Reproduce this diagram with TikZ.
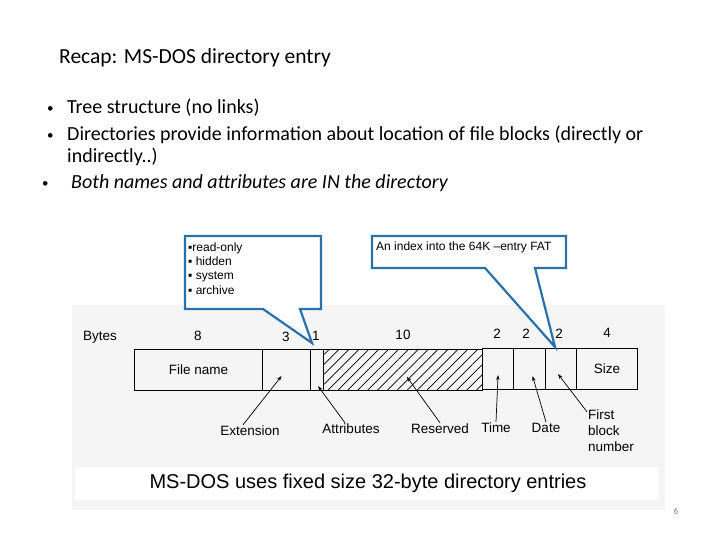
\documentclass[tikz,border=0pt]{standalone}
\usepackage{fontspec}
\setmainfont{Carlito}
\newfontfamily\arialfont{Liberation Sans}
\usepackage{xcolor}
\definecolor{calloutblue}{RGB}{41,113,171}
\usetikzlibrary{arrows.meta,patterns.meta,positioning}

\begin{document}
\begin{tikzpicture}[
    x=1pt, y=-1pt,
    slidetext/.style={font=\fontsize{20}{24}\selectfont, inner sep=0pt, anchor=base west},
    dot/.style={font=\fontsize{13}{16}\selectfont, inner sep=0pt, anchor=base west},
    field/.style={draw=black, line width=1.1pt, minimum height=41pt, inner sep=0pt, anchor=north west,
                  font=\arialfont\fontsize{13.5}{16}\selectfont},
    bytenum/.style={font=\arialfont\fontsize{13.5}{16}\selectfont, inner sep=0pt},
    lbl/.style={font=\arialfont\fontsize{13.5}{16}\selectfont, inner sep=1pt},
    ptr/.style={-{Stealth[length=5pt,width=3.5pt]}, line width=0.7pt},
    callout/.style={draw=calloutblue, line width=2.2pt, fill=white, line join=miter},
    calltext/.style={font=\arialfont\fontsize{12}{14}\selectfont, inner sep=0pt, anchor=base west}
]
\useasboundingbox (0,0) rectangle (720,540);

% Title and bullets
\node[slidetext, font=\fontsize{21.5}{26}\selectfont] (title) at (59,64) {Recap: MS-DOS directory entry};
\node[dot] (b1dot) at (47,113) {•};
\node[slidetext] (b1) at (67,114) {Tree structure (no links)};
\node[dot] (b2dot) at (47,140) {•};
\node[slidetext] (b2) at (67,141) {Directories provide information about location of file blocks (directly or};
\node[slidetext] (b2more) at (67,163) {indirectly..)};
\node[dot] (b3dot) at (42,188) {•};
\node[slidetext] (b3) at (71,189) {\itshape Both names and attributes are IN the directory};

% Scanned figure background
\fill[gray!8] (72,305) rectangle (665,510);
\fill[white] (75,467) rectangle (658,500);

% Byte counts
\node[bytenum] (bytes) at (100,337) {Bytes};
\node[bytenum] (n8) at (198,336) {8};
\node[bytenum] (n3) at (286,337) {3};
\node[bytenum] (n1) at (316,336) {1};
\node[bytenum] (n10) at (403,335) {10};
\node[bytenum] (n2a) at (497,334) {2};
\node[bytenum] (n2b) at (526,334) {2};
\node[bytenum] (n2c) at (559,334) {2};
\node[bytenum] (n4) at (607,333) {4};

% Fields of the entry
\node[field, minimum width=128pt] (fname) at (134,349) {File name\hspace{10pt}};
\node[field, minimum width=48pt] (ext) at (262,349) {};
\node[field, minimum width=13pt] (attr) at (310,349) {};
\node[field, minimum width=159pt, pattern={Lines[angle=45,distance=7pt,line width=0.7pt]}] (resv) at (323,349) {};
\node[field, minimum width=31pt] (time) at (482,348) {};
\node[field, minimum width=32pt] (date) at (513,348) {};
\node[field, minimum width=31pt] (first) at (545,348) {};
\node[field, minimum width=61pt] (size) at (576,348) {Size};

% Labels under the entry
\node[lbl] (extlbl) at (250,431) {Extension};
\node[lbl] (attrlbl) at (351,429) {Attributes};
\node[lbl] (resvlbl) at (440,429) {Reserved};
\node[lbl] (timelbl) at (496,428) {Time};
\node[lbl] (datelbl) at (546,428) {Date};
\node[lbl, align=left, anchor=west] (firstlbl) at (587,431) {First\\block\\number};

\draw[ptr] ([xshift=-7pt]extlbl.north) -- ([xshift=-5pt,yshift=-6pt]ext.center);
\draw[ptr] ([xshift=-6pt]attrlbl.north) -- ([xshift=1pt,yshift=5pt]attr.south);
\draw[ptr] (resvlbl.north) -- ([xshift=4pt,yshift=-7pt]resv.center);
\draw[ptr] (timelbl.north) -- ([yshift=-6pt]time.center);
\draw[ptr] (datelbl.north) -- ([xshift=3pt,yshift=-7pt]date.center);
\draw[ptr] ([yshift=-3pt]firstlbl.north west) -- ([xshift=-3pt,yshift=-5pt]first.center);

% Callouts
\coordinate (attrtip) at (312,343);
\coordinate (firsttip) at (555,347);
\draw[callout] (185,236) -- (321,236) -- (321,309) -- (300,309) -- (attrtip)
    -- (263,309) -- (185,309) -- cycle;
\foreach \txt [count=\k] in {{▪read-only},{▪ hidden},{▪ system},{▪ archive}}
    \node[calltext] (flag\k) at (188,237+14.3*\k) {\txt};

\draw[callout] (372,236) -- (566,236) -- (566,268) -- (535,268) -- (firsttip)
    -- (485,268) -- (372,268) -- cycle;
\node[calltext] (fatnote) at (376,251) {An index into the 64K –entry FAT};

% Caption and page number
\node[font=\arialfont\fontsize{20}{24}\selectfont, inner sep=0pt] (caption) at (368,483) {MS-DOS uses fixed size 32-byte directory entries};
\node[font=\fontsize{9}{10}\selectfont, text=gray, inner sep=0pt] (pagenum) at (676,511) {6};
\end{tikzpicture}
\end{document}
